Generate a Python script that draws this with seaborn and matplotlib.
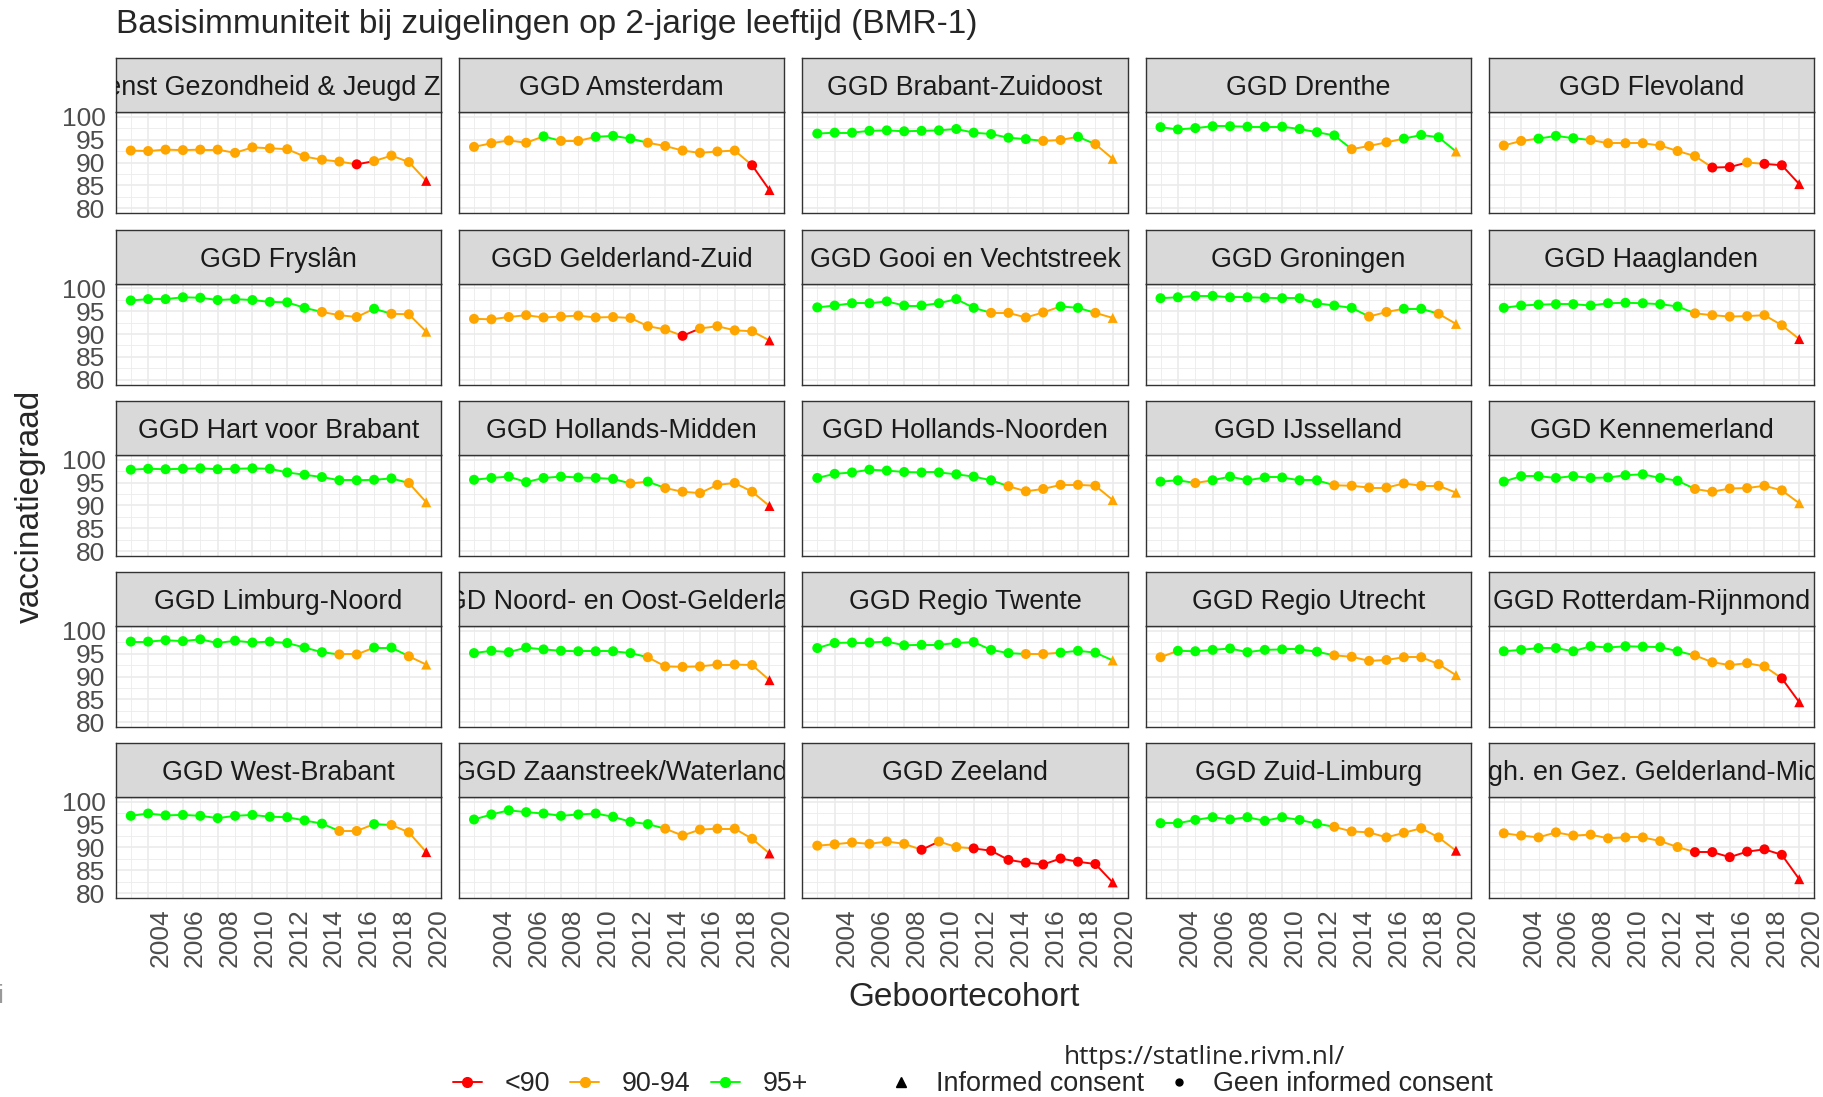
import pandas as pd
import matplotlib.pyplot as plt
import seaborn as sns
from matplotlib.lines import Line2D

# Vaccination coverage BMR-1 per GGD region, birth cohorts 2003-2020
years = list(range(2003, 2021))

dgj_zhz = [92.6, 92.5, 92.8, 92.7, 92.8, 92.8, 92.1, 93.3, 93.1, 92.9, 91.3, 90.6, 90.2, 89.6, 90.3, 91.5, 90.1, 86.0]
amsterdam = [93.4, 94.2, 94.8, 94.3, 95.7, 94.7, 94.7, 95.6, 95.8, 95.2, 94.3, 93.6, 92.6, 92.1, 92.4, 92.6, 89.4, 84.0]
brabant_zo = [96.3, 96.5, 96.5, 96.9, 97.0, 96.8, 96.9, 97.0, 97.3, 96.5, 96.2, 95.4, 95.1, 94.7, 94.9, 95.6, 94.0, 90.8]
drenthe = [97.7, 97.2, 97.5, 97.9, 97.9, 97.8, 97.8, 97.8, 97.3, 96.6, 95.9, 92.9, 93.6, 94.4, 95.2, 96.0, 95.5, 92.4]
flevoland = [93.7, 94.7, 95.2, 95.8, 95.3, 94.9, 94.2, 94.2, 94.2, 93.7, 92.5, 91.4, 88.9, 89.0, 90.0, 89.7, 89.4, 85.3]
fryslan = [97.3, 97.6, 97.6, 98.0, 97.9, 97.4, 97.6, 97.4, 97.0, 96.9, 95.7, 94.8, 94.1, 93.7, 95.5, 94.4, 94.3, 90.5]
gelderland_zuid = [93.3, 93.2, 93.7, 94.1, 93.6, 93.8, 94.0, 93.6, 93.7, 93.5, 91.7, 91.0, 89.6, 91.2, 91.7, 90.8, 90.6, 88.6]
gooi = [95.8, 96.2, 96.7, 96.7, 97.1, 96.2, 96.2, 96.7, 97.6, 95.7, 94.6, 94.6, 93.6, 94.7, 96.0, 95.7, 94.6, 93.5]
groningen = [97.8, 98.0, 98.3, 98.3, 98.0, 98.0, 97.9, 97.8, 97.8, 96.7, 96.2, 95.7, 93.8, 94.8, 95.5, 95.5, 94.4, 92.2]
haaglanden = [95.7, 96.2, 96.4, 96.5, 96.5, 96.2, 96.7, 96.8, 96.7, 96.5, 96.0, 94.5, 94.1, 93.8, 93.9, 94.1, 91.9, 88.9]
hart_brabant = [97.8, 98.0, 97.9, 98.0, 98.1, 97.9, 98.0, 98.1, 98.0, 97.2, 96.7, 96.2, 95.5, 95.5, 95.6, 95.9, 94.9, 90.7]
hollands_midden = [95.6, 96.0, 96.3, 95.1, 96.0, 96.3, 96.1, 96.0, 95.8, 94.8, 95.2, 93.8, 93.0, 92.7, 94.5, 94.9, 93.0, 89.9]
hollands_noorden = [96.0, 96.9, 97.2, 97.8, 97.6, 97.3, 97.2, 97.2, 96.8, 96.3, 95.5, 94.2, 93.1, 93.6, 94.5, 94.5, 94.3, 91.2]
ijsselland = [95.2, 95.5, 94.9, 95.5, 96.3, 95.5, 96.1, 96.1, 95.5, 95.5, 94.4, 94.3, 93.9, 93.9, 94.8, 94.3, 94.3, 92.8]
kennemerland = [95.2, 96.4, 96.4, 96.0, 96.4, 96.0, 96.1, 96.6, 96.8, 96.0, 95.4, 93.6, 93.0, 93.7, 93.8, 94.3, 93.3, 90.5]
limburg_noord = [97.6, 97.6, 97.9, 97.7, 98.1, 97.3, 97.8, 97.4, 97.6, 97.3, 96.3, 95.3, 94.8, 94.8, 96.3, 96.3, 94.4, 92.6]
noord_oost_gld = [95.1, 95.6, 95.3, 96.3, 95.9, 95.6, 95.5, 95.5, 95.5, 95.1, 94.2, 92.2, 92.1, 92.2, 92.6, 92.6, 92.5, 89.2]
regio_twente = [96.2, 97.3, 97.4, 97.4, 97.6, 96.8, 96.9, 96.9, 97.3, 97.5, 95.8, 95.1, 94.9, 94.9, 95.2, 95.6, 95.2, 93.5]
regio_utrecht = [94.2, 95.6, 95.5, 95.8, 96.1, 95.3, 95.8, 95.9, 95.9, 95.4, 94.6, 94.3, 93.4, 93.6, 94.2, 94.2, 92.7, 90.3]
rotterdam = [95.5, 95.8, 96.2, 96.2, 95.5, 96.6, 96.3, 96.6, 96.5, 96.4, 95.5, 94.6, 93.1, 92.5, 92.9, 92.2, 89.6, 84.4]
west_brabant = [96.9, 97.4, 97.0, 97.1, 96.9, 96.4, 96.9, 97.1, 96.7, 96.6, 95.9, 95.2, 93.6, 93.6, 95.1, 94.9, 93.3, 89.0]
zaanstreek = [96.1, 97.2, 98.1, 97.7, 97.4, 96.9, 97.2, 97.4, 96.7, 95.6, 95.1, 94.1, 92.6, 93.9, 94.1, 94.1, 91.9, 88.7]
zeeland = [90.4, 90.7, 91.1, 90.8, 91.3, 90.8, 89.5, 91.3, 90.1, 89.8, 89.3, 87.3, 86.7, 86.3, 87.6, 86.9, 86.4, 82.4]
zuid_limburg = [95.3, 95.3, 96.0, 96.6, 96.1, 96.6, 95.8, 96.6, 96.0, 95.2, 94.5, 93.5, 93.3, 92.2, 93.2, 94.2, 92.2, 89.3]
gelderland_midden = [93.1, 92.6, 92.2, 93.3, 92.6, 92.8, 92.0, 92.2, 92.2, 91.4, 90.1, 89.0, 89.0, 87.9, 89.1, 89.6, 88.4, 83.1]

regions = ["Dienst Gezondheid & Jeugd ZHZ", "GGD Amsterdam", "GGD Brabant-Zuidoost",
           "GGD Drenthe", "GGD Flevoland", "GGD Fryslân", "GGD Gelderland-Zuid",
           "GGD Gooi en Vechtstreek", "GGD Groningen", "GGD Haaglanden",
           "GGD Hart voor Brabant", "GGD Hollands-Midden", "GGD Hollands-Noorden",
           "GGD IJsselland", "GGD Kennemerland", "GGD Limburg-Noord",
           "GGD Noord- en Oost-Gelderland", "GGD Regio Twente", "GGD Regio Utrecht",
           "GGD Rotterdam-Rijnmond", "GGD West-Brabant", "GGD Zaanstreek/Waterland",
           "GGD Zeeland", "GGD Zuid-Limburg", "Veiligh. en Gez. Gelderland-Midden"]
series = [dgj_zhz, amsterdam, brabant_zo, drenthe, flevoland, fryslan, gelderland_zuid,
          gooi, groningen, haaglanden, hart_brabant, hollands_midden, hollands_noorden,
          ijsselland, kennemerland, limburg_noord, noord_oost_gld, regio_twente,
          regio_utrecht, rotterdam, west_brabant, zaanstreek, zeeland, zuid_limburg,
          gelderland_midden]

cat_labels = ["<90", "90-94", "95+"]
consent_labels = ["Informed consent", "Geen informed consent"]
palette = {"<90": "#FF0000", "90-94": "#FFA500", "95+": "#00FF00"}


def category(v):
    if v < 90:
        return "<90"
    if v < 95:
        return "90-94"
    return "95+"


rows = []
for name, vals in zip(regions, series):
    for yr, v in zip(years, vals):
        rows.append({"regio": name, "jaar": yr, "graad": v, "cat": category(v),
                     "consent": consent_labels[0] if yr == 2020 else consent_labels[1]})
df = pd.DataFrame(rows)

# line pieces get the colour of their starting point
segs = []
for name, g in df.groupby("regio", sort=False):
    g = g.reset_index(drop=True)
    for i in range(len(g) - 1):
        for j in (i, i + 1):
            segs.append({"regio": name, "seg": i, "jaar": g.jaar[j],
                         "graad": g.graad[j], "cat": g.cat[i]})
seg_df = pd.DataFrame(segs)

sns.set_style("white")
plt.rcParams["font.family"] = ["Liberation Sans", "DejaVu Sans"]

W, H = 1824, 1097
fig = plt.figure(figsize=(W / 100, H / 100), dpi=100)

lefts = [116, 459.25, 802.5, 1145.75, 1489]
tops = [112, 283.5, 455, 626, 797]
pw, ph, sh = 325, 101, 54
border = "#333333"

for k, name in enumerate(regions):
    r, c = divmod(k, 5)
    x0, y0 = lefts[c], tops[r]
    ax = fig.add_axes([x0 / W, 1 - (y0 + ph) / H, pw / W, ph / H])

    sns.lineplot(data=seg_df[seg_df.regio == name], x="jaar", y="graad", hue="cat",
                 units="seg", estimator=None, palette=palette, linewidth=1.4,
                 sort=False, legend=False, ax=ax)
    sns.scatterplot(data=df[df.regio == name], x="jaar", y="graad", hue="cat",
                    style="consent", markers={consent_labels[1]: "o", consent_labels[0]: "^"},
                    palette=palette, s=52, linewidth=0, legend=False, ax=ax, zorder=3)

    ax.set_xlim(2002.15, 2020.85)
    ax.set_ylim(79, 101)
    ax.set_xticks(range(2004, 2021, 2))
    ax.set_xticks(range(2003, 2021, 2), minor=True)
    ax.set_yticks([80, 85, 90, 95, 100])
    ax.set_yticks([82.5, 87.5, 92.5, 97.5], minor=True)
    ax.set_axisbelow(True)
    ax.grid(which="major", color="#EBEBEB", linewidth=1.2)
    ax.grid(which="minor", color="#EBEBEB", linewidth=0.6)
    ax.set_xlabel("")
    ax.set_ylabel("")
    for sp in ax.spines.values():
        sp.set_color(border)
        sp.set_linewidth(1.0)
    ax.tick_params(which="minor", length=0)
    ax.tick_params(which="major", length=5, width=1, color=border,
                   labelsize=19, labelcolor="#4D4D4D", pad=2.5)
    if c != 0:
        ax.tick_params(axis="y", left=False, labelleft=False)
    if r != 4:
        ax.tick_params(axis="x", bottom=False, labelbottom=False)
    else:
        plt.setp(ax.get_xticklabels(), rotation=90, ha="left", va="top")

    # facet strip
    sax = fig.add_axes([x0 / W, 1 - y0 / H, pw / W, sh / H])
    sax.set_facecolor("#D9D9D9")
    sax.set_xticks([])
    sax.set_yticks([])
    for sp in sax.spines.values():
        sp.set_color(border)
        sp.set_linewidth(1.0)
    sax.text(0.5, 0.44, name, transform=sax.transAxes, ha="center", va="center",
             fontsize=19.4, color="#1A1A1A", clip_on=True)

fig.text(116 / W, 1 - 33 / H, "Basisimmuniteit bij zuigelingen op 2-jarige leeftijd (BMR-1)",
         fontsize=24, ha="left", va="baseline")
fig.text(30 / W, 1 - 506 / H, "vaccinatiegraad", rotation=90, fontsize=24,
         ha="center", va="center")
fig.text(964 / W, 1 - 997 / H, "Geboortecohort", fontsize=24, ha="center", va="center")
fig.text(0.5 / W, 1 - 996 / H, "i", fontsize=19, color="#999999", ha="center", va="center")

cat_handles = [Line2D([0], [0], color=palette[l], lw=1.4, marker="o", markersize=7)
               for l in cat_labels]
fig.legend(cat_handles, cat_labels, loc="center left", bbox_to_anchor=(453 / W, 1 - 1084 / H),
           ncol=3, frameon=False, fontsize=19.4, handlelength=1.07, handletextpad=0.85,
           columnspacing=0.75, borderpad=0, borderaxespad=0)

shape_handles = [Line2D([0], [0], color="black", ls="none", marker="^", markersize=7),
                 Line2D([0], [0], color="black", ls="none", marker="o", markersize=5)]
fig.legend(shape_handles, consent_labels, loc="center left", bbox_to_anchor=(887 / W, 1 - 1084 / H),
           ncol=2, frameon=False, fontsize=19.4, handlelength=1.07, handletextpad=0.75,
           columnspacing=0.75, borderpad=0, borderaxespad=0)
fig.text(1204 / W, 1 - 1057 / H, "https://statline.rivm.nl/", fontsize=19,
         family=["Open Sans", "DejaVu Sans"], ha="center", va="center")

fig.savefig("out.png", dpi=100)
